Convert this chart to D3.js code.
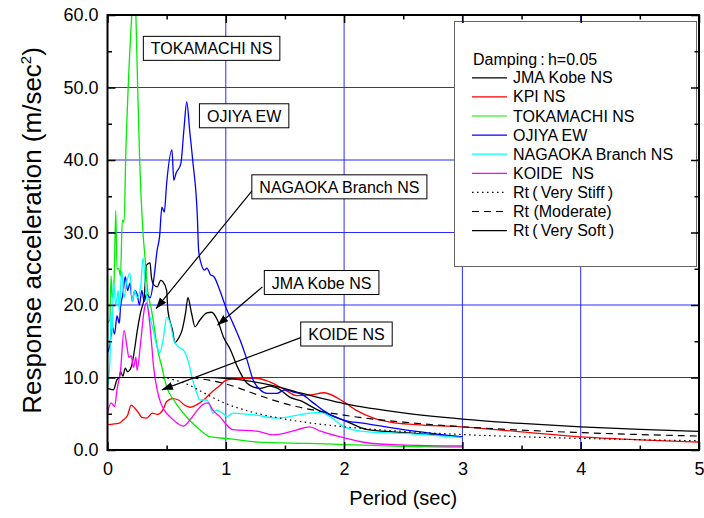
<!DOCTYPE html>
<html>
<head>
<meta charset="utf-8">
<script src="https://cdn.jsdelivr.net/npm/d3@7"></script>
<style>
  body { margin: 0; background: #fff; }
  svg { font-family: "Liberation Sans", Arial, sans-serif; }
</style>
</head>
<body>
<svg id="chart" width="704" height="518"></svg>
<script>
// ─── DATA (period sec, response acceleration m/s2) ───────────────────────────
const jmaKobeNS = [
  [0, 8.5], [0.05, 8.3], [0.08, 9.7], [0.1, 10], [0.11, 10.8], [0.13, 10.2], [0.15, 11.3],
  [0.17, 10.8], [0.2, 11.4], [0.23, 14], [0.25, 16.3], [0.28, 19], [0.31, 21], [0.33, 25.5],
  [0.36, 25.8], [0.37, 24], [0.39, 22.8], [0.42, 22.5], [0.45, 23.4], [0.47, 23.2], [0.5, 22],
  [0.51, 19.3], [0.55, 16.5], [0.57, 14.8], [0.6, 15.4], [0.63, 16.5], [0.66, 18.9], [0.68, 21],
  [0.71, 18.9], [0.74, 17], [0.78, 17.9], [0.84, 18.9], [0.88, 19], [0.93, 17.9], [0.98, 15.6],
  [1.04, 13.8], [1.1, 11.4], [1.18, 9.2], [1.23, 8.7], [1.29, 8.5], [1.37, 8.8], [1.46, 8.3],
  [1.54, 7.3], [1.63, 6.8], [1.78, 5.5], [2, 4.1], [2.2, 2.8], [2.6, 2.3], [3, 1.8]
];
const kpiNS = [
  [0, 3.5], [0.1, 3.7], [0.13, 4.1], [0.17, 4.8], [0.2, 6.2], [0.23, 5.8], [0.26, 5.2],
  [0.29, 4.5], [0.33, 4.4], [0.38, 5.1], [0.42, 4.9], [0.47, 5.6], [0.5, 6.7], [0.55, 7.1],
  [0.6, 6.9], [0.65, 6.2], [0.7, 5.9], [0.76, 6.3], [0.82, 7], [0.87, 7.8], [0.95, 8.9],
  [1, 9.6], [1.1, 9.9], [1.26, 9.9], [1.37, 9.4], [1.5, 8.3], [1.6, 7.5], [1.72, 7.6],
  [1.83, 7.9], [2, 6.6], [2.1, 5.5], [2.25, 4.4], [2.4, 3.8], [2.6, 3.5], [3, 3.2],
  [3.5, 2.5], [4, 1.8], [4.5, 1.4], [5, 1.1]
];
const tokamachiNS = [
  [0, 17.5], [0.02, 18], [0.03, 24], [0.04, 21], [0.055, 23], [0.07, 33], [0.08, 25],
  [0.095, 25], [0.11, 24], [0.125, 31.7], [0.14, 31.4], [0.155, 41], [0.18, 52], [0.205, 60],
  [0.225, 66], [0.24, 60], [0.255, 50], [0.27, 41], [0.3, 30], [0.32, 26], [0.34, 22],
  [0.37, 19.5], [0.39, 17.5], [0.42, 14.2], [0.46, 11.4], [0.5, 8.7], [0.56, 6.9], [0.62, 5.5],
  [0.7, 4], [0.78, 2.8], [0.87, 1.8], [1, 1.6], [1.27, 1.1], [1.7, 0.9], [2, 0.75],
  [2.5, 0.5], [3, 0.4]
];
const ojiyaEW = [
  [0, 13.4], [0.02, 14.5], [0.04, 17], [0.06, 16], [0.08, 18.5], [0.1, 17.5], [0.11, 19.7],
  [0.13, 21.5], [0.15, 23.9], [0.17, 22], [0.19, 23], [0.21, 20.5], [0.23, 22], [0.25, 21.5],
  [0.27, 20], [0.29, 22], [0.31, 20.5], [0.33, 21.5], [0.36, 21], [0.39, 23.4], [0.42, 27.6],
  [0.44, 29.4], [0.46, 33.5], [0.48, 32.8], [0.5, 36.8], [0.545, 41.4], [0.56, 37.2],
  [0.58, 38.2], [0.62, 39.5], [0.645, 44], [0.67, 48], [0.695, 44], [0.72, 40], [0.76, 32],
  [0.77, 27.6], [0.79, 25.8], [0.82, 24.8], [0.84, 25.1], [0.87, 24.2], [0.9, 23.9],
  [0.95, 22], [1, 19.7], [1.06, 17.5], [1.12, 15.2], [1.18, 12.4], [1.23, 9.7], [1.29, 8.3],
  [1.35, 7.8], [1.43, 7.8], [1.5, 8.3], [1.57, 8], [1.65, 7.6], [1.74, 6.5], [1.82, 5.5],
  [2, 4.1], [2.16, 3.7], [2.5, 2.8], [3, 1.8]
];
const nagaokaNS = [
  [0, 8.7], [0.02, 12], [0.03, 19], [0.04, 16], [0.05, 23.4], [0.07, 20], [0.09, 22],
  [0.1, 19], [0.12, 24.8], [0.14, 21], [0.16, 23], [0.19, 24.4], [0.21, 20.5], [0.23, 22],
  [0.25, 21], [0.28, 22.5], [0.3, 26.5], [0.32, 23], [0.34, 20], [0.38, 17], [0.42, 14.2],
  [0.44, 13.4], [0.47, 15.2], [0.5, 18.3], [0.53, 17.5], [0.56, 15.2], [0.6, 14.2],
  [0.64, 13.8], [0.68, 12.4], [0.72, 9.7], [0.76, 7.6], [0.78, 6.9], [0.84, 6.9], [0.87, 5.9],
  [0.89, 5.1], [0.92, 5.5], [0.98, 5], [1.01, 4.6], [1.06, 5.1], [1.26, 4.8], [1.43, 4.4],
  [1.54, 4.6], [1.71, 5.1], [1.8, 5.2], [1.9, 4.4], [2, 3.2], [2.2, 2.5], [2.5, 2.3], [3, 1.7]
];
const koideNS = [
  [0, 5.1], [0.03, 6.5], [0.06, 6], [0.08, 8.3], [0.11, 11], [0.14, 16.5], [0.165, 14.2],
  [0.18, 12.8], [0.2, 13], [0.22, 11.4], [0.24, 12.8], [0.25, 11], [0.28, 14.8], [0.31, 19.3],
  [0.33, 20.3], [0.35, 18.5], [0.37, 15.2], [0.39, 11.4], [0.42, 8.3], [0.45, 6.5],
  [0.48, 5.5], [0.54, 4.4], [0.59, 3.7], [0.64, 3.3], [0.7, 4.2], [0.76, 5.5], [0.8, 6.2],
  [0.85, 6.5], [0.89, 5.5], [0.95, 4.6], [1, 3.6], [1.06, 2.8], [1.26, 2.6], [1.4, 2.1],
  [1.54, 2.5], [1.65, 3], [1.71, 3.2], [1.8, 2.6], [1.97, 1.8], [2.19, 1], [2.47, 0.7], [3, 0.55]
];
const rtVeryStiff = [
  [0, 10], [0.4, 10], [0.5, 9.88], [0.6, 9.5], [0.7, 8.88], [0.8, 8], [1, 6.4], [1.2, 5.33],
  [1.5, 4.27], [2, 3.2], [2.5, 2.56], [3, 2.13], [3.5, 1.83], [4, 1.6], [4.5, 1.42], [5, 1.28]
];
const rtModerate = [
  [0, 10], [0.6, 10], [0.7, 9.94], [0.8, 9.78], [0.9, 9.5], [1, 9.11], [1.1, 8.61], [1.2, 8],
  [1.5, 6.4], [2, 4.8], [2.5, 3.84], [3, 3.2], [3.5, 2.74], [4, 2.4], [4.5, 2.13], [5, 1.92]
];
const rtVerySoft = [
  [0, 10], [0.8, 10], [1, 9.88], [1.2, 9.5], [1.4, 8.88], [1.6, 8], [2, 6.4], [2.5, 5.12],
  [3, 4.27], [3.5, 3.66], [4, 3.2], [4.5, 2.84], [5, 2.56]
];

const xTicks = [0, 1, 2, 3, 4, 5];
const xMinorTicks = [0.5, 1.5, 2.5, 3.5, 4.5];
const yTicks = [0, 10, 20, 30, 40, 50, 60];
const yMinorTicks = [5, 15, 25, 35, 45, 55];

const legendTitle = 'Damping\u2009:\u2009h=0.05';
const seriesNames = ['JMA Kobe NS', 'KPI NS', 'TOKAMACHI NS', 'OJIYA EW', 'NAGAOKA Branch NS',
  'KOIDE  NS', 'Rt\u2009(\u2009Very Stiff\u2009)', 'Rt (Moderate)', 'Rt\u2009(\u2009Very Soft\u2009)'];
const seriesData = [jmaKobeNS, kpiNS, tokamachiNS, ojiyaEW, nagaokaNS, koideNS,
  rtVeryStiff, rtModerate, rtVerySoft];

// callout labels: text, box centre [T, acc], arrow from -> to
const callouts = [
  { text: 'TOKAMACHI NS', at: [0.88, 55.4] },
  { text: 'OJIYA EW', at: [1.155, 46.1] },
  { text: 'NAGAOKA Branch NS', at: [1.96, 36.3], from: [1.23, 35.9], to: [0.41, 19.5] },
  { text: 'JMA Kobe NS', at: [1.81, 23.1], from: [1.31, 22.5], to: [0.93, 17.2] },
  { text: 'KOIDE NS', at: [2.02, 16], from: [1.65, 15.6], to: [0.46, 8.3] }
];

// ─── STYLE ───────────────────────────────────────────────────────────────────
const colors = ['#000000', '#ff0000', '#00ee00', '#0000ff', '#00ffff', '#ff00ff',
  '#000000', '#000000', '#000000'];
const dashes = [null, null, null, null, null, null, '1.5,3.5', '7,5', null];

const plotL = 107.5, plotR = 699, plotT = 15, plotB = 450;

const svg = d3.select('#chart');
const x = d3.scaleLinear().domain([0, 5]).range([plotL, plotR]);
const y = d3.scaleLinear().domain([0, 60]).range([plotB, plotT]);

const defs = svg.append('defs');
defs.append('clipPath').attr('id', 'plot-clip')
  .append('rect').attr('x', plotL).attr('y', plotT)
  .attr('width', plotR - plotL).attr('height', plotB - plotT);

const marker = defs.append('marker')
  .attr('id', 'arrow').attr('markerUnits', 'userSpaceOnUse')
  .attr('markerWidth', 12).attr('markerHeight', 10)
  .attr('refX', 11).attr('refY', 4).attr('orient', 'auto');
marker.append('path').attr('d', 'M0,0 L11,4 L0,8 Z').attr('fill', '#000');

// grid
const grid = svg.append('g').attr('stroke', '#2a2aff').attr('stroke-width', 1);
grid.selectAll('line.gx').data(xTicks.slice(1, -1)).join('line').attr('class', 'gx')
  .attr('x1', (d) => x(d)).attr('x2', (d) => x(d)).attr('y1', plotT).attr('y2', plotB);
grid.selectAll('line.gy').data(yTicks.slice(1, -1)).join('line').attr('class', 'gy')
  .attr('x1', plotL).attr('x2', plotR).attr('y1', (d) => y(d)).attr('y2', (d) => y(d));

// curves
const line = d3.line().x((d) => x(d[0])).y((d) => y(d[1])).curve(d3.curveMonotoneX);
svg.append('g').attr('clip-path', 'url(#plot-clip)')
  .selectAll('path').data(seriesData).join('path')
  .attr('d', line)
  .attr('fill', 'none')
  .attr('stroke', (d, i) => colors[i])
  .attr('stroke-width', (d, i) => (i >= 6 ? 1.2 : 1.3))
  .attr('stroke-dasharray', (d, i) => dashes[i]);

// legend
const lg = svg.append('g');
lg.append('rect').attr('x', 454.5).attr('y', 21.5).attr('width', 242).attr('height', 245)
  .attr('fill', '#fff').attr('stroke', '#666').attr('stroke-width', 1);
lg.append('text').attr('x', 473).attr('y', 65).attr('font-size', 16).text(legendTitle);
const rows = lg.selectAll('g.row').data(seriesNames).join('g').attr('class', 'row')
  .attr('transform', (d, i) => `translate(0,${83.3 + i * 19.1})`);
rows.append('line').attr('x1', 472).attr('x2', 507).attr('y1', -5.5).attr('y2', -5.5)
  .attr('stroke', (d, i) => colors[i]).attr('stroke-width', 1.2)
  .attr('stroke-dasharray', (d, i) => dashes[i]);
rows.append('text').attr('x', 513).attr('font-size', 16)
  .style('white-space', 'pre').text((d) => d);

// frame + ticks (inward)
const axes = svg.append('g');
function addAxis(gen, tr, ticks, size, fmt, pad) {
  const g = axes.append('g').attr('transform', tr)
    .call(gen.tickValues(ticks).tickSize(size).tickPadding(pad).tickFormat(fmt));
  g.select('.domain').remove();
  g.selectAll('.tick line').attr('stroke', '#000').attr('stroke-width', 1.5);
  g.selectAll('text').attr('font-size', 18).attr('fill', '#000')
    .attr('font-family', '"Liberation Sans", Arial, sans-serif');
  return g;
}
addAxis(d3.axisBottom(x), `translate(0,${plotB})`, xTicks, -8, d3.format('d'), 12);
addAxis(d3.axisBottom(x), `translate(0,${plotB})`, xMinorTicks, -4.5, () => '', 0);
addAxis(d3.axisTop(x), `translate(0,${plotT})`, xTicks, -8, () => '', 0);
addAxis(d3.axisTop(x), `translate(0,${plotT})`, xMinorTicks, -4.5, () => '', 0);
addAxis(d3.axisLeft(y), `translate(${plotL},0)`, yTicks, -8, d3.format('.1f'), 9);
addAxis(d3.axisLeft(y), `translate(${plotL},0)`, yMinorTicks, -4.5, () => '', 0);
addAxis(d3.axisRight(y), `translate(${plotR},0)`, yTicks, -8, () => '', 0);
addAxis(d3.axisRight(y), `translate(${plotR},0)`, yMinorTicks, -4.5, () => '', 0);
axes.append('rect').attr('x', plotL).attr('y', plotT)
  .attr('width', plotR - plotL).attr('height', plotB - plotT)
  .attr('fill', 'none').attr('stroke', '#000').attr('stroke-width', 2);

// callouts
const co = svg.append('g');
callouts.filter((c) => c.from).forEach((c) => {
  co.append('line')
    .attr('x1', x(c.from[0])).attr('y1', y(c.from[1]))
    .attr('x2', x(c.to[0])).attr('y2', y(c.to[1]))
    .attr('stroke', '#000').attr('stroke-width', 1.2)
    .attr('marker-end', 'url(#arrow)');
});
callouts.forEach((c) => {
  const g = co.append('g');
  const rect = g.append('rect');
  const t = g.append('text').attr('x', x(c.at[0])).attr('y', y(c.at[1]) + 6)
    .attr('text-anchor', 'middle').attr('font-size', 16).text(c.text);
  const w = t.node().getComputedTextLength() + 15;
  rect.attr('x', x(c.at[0]) - w / 2).attr('y', y(c.at[1]) - 12)
    .attr('width', w).attr('height', 24)
    .attr('fill', '#fff').attr('stroke', '#000').attr('stroke-width', 1);
});

// axis titles
svg.append('text').attr('x', (plotL + plotR) / 2).attr('y', 505)
  .attr('text-anchor', 'middle').attr('font-size', 20).text('Period (sec)');
const yt = svg.append('text')
  .attr('transform', `translate(41,${(plotT + plotB) / 2 - 2}) rotate(-90)`)
  .attr('text-anchor', 'middle').attr('font-size', 26);
yt.append('tspan').text('Response acceleration (m/sec');
yt.append('tspan').attr('font-size', 15).attr('dy', -10).text('2');
yt.append('tspan').attr('dy', 10).text(')');
</script>
</body>
</html>
